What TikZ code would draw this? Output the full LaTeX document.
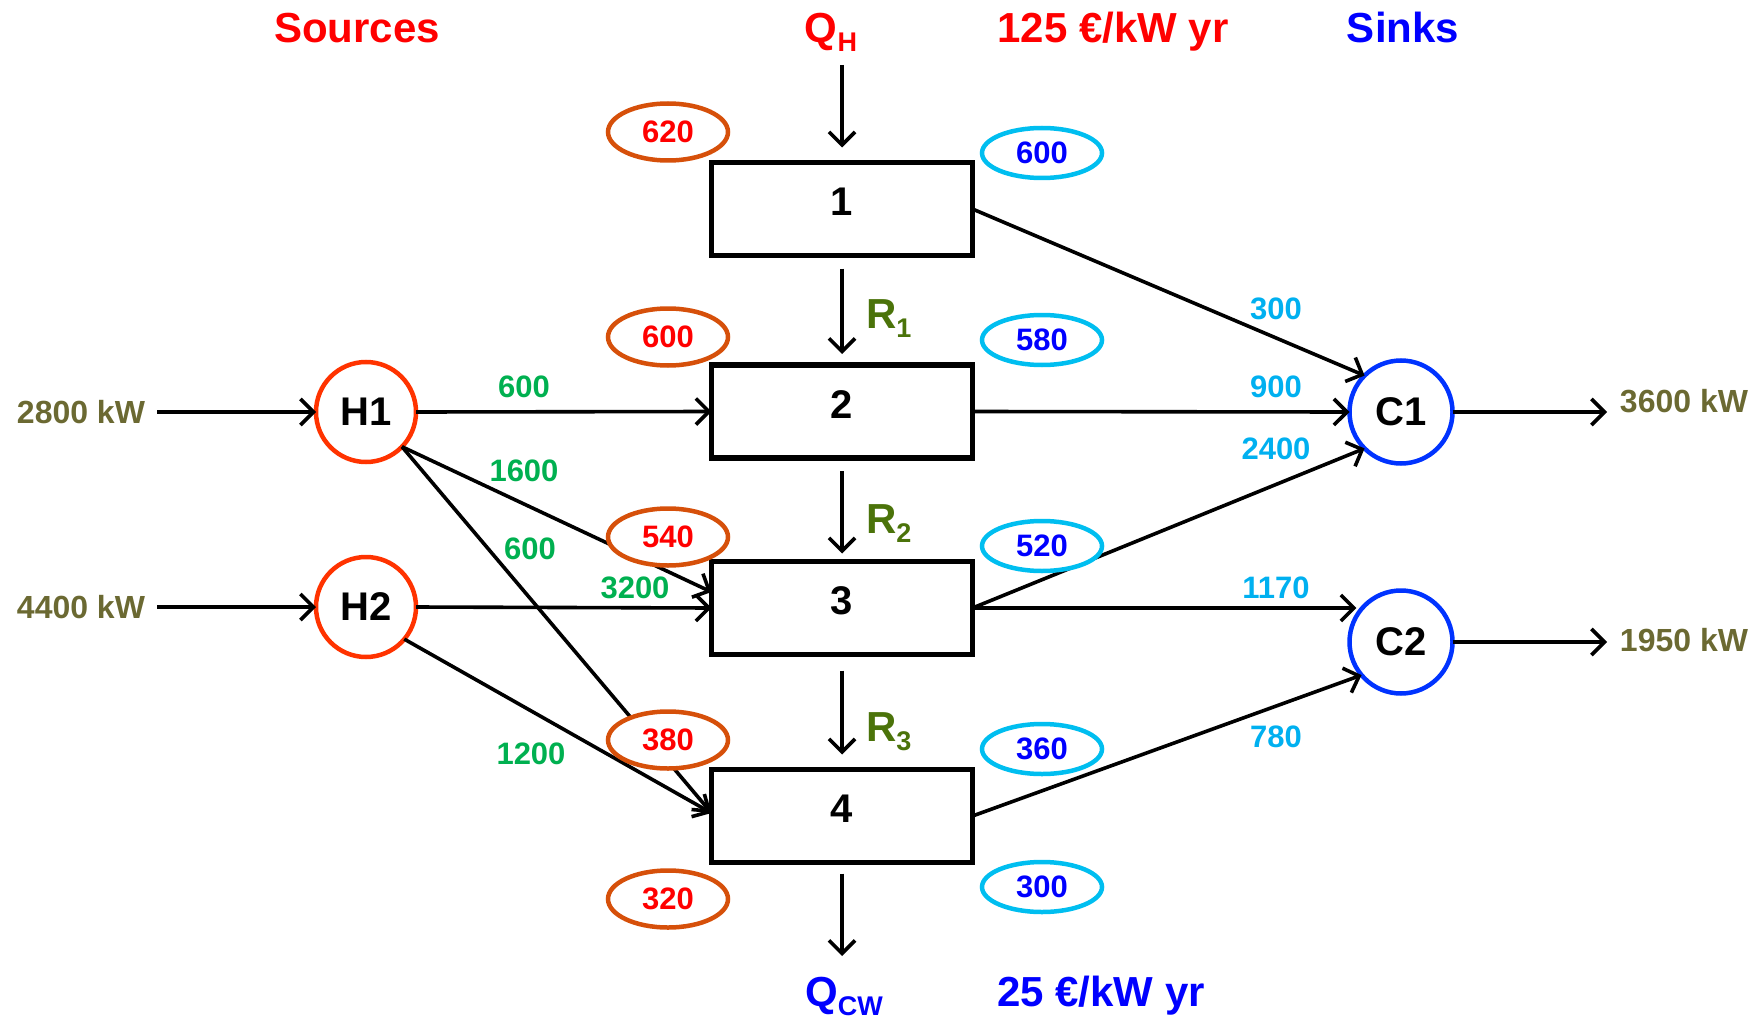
\documentclass[tikz,border=0pt]{standalone}
\usepackage{fontspec}
\setmainfont{Liberation Sans}
\usetikzlibrary{arrows.meta,shapes.geometric}
\definecolor{srcred}{RGB}{255,0,0}
\definecolor{snkblue}{RGB}{0,0,255}
\definecolor{hred}{RGB}{255,51,0}
\definecolor{cblue}{RGB}{0,51,255}
\definecolor{ovorange}{RGB}{214,80,10}
\definecolor{ovcyan}{RGB}{0,190,240}
\definecolor{lblgreen}{RGB}{0,176,80}
\definecolor{lblcyan}{RGB}{0,176,240}
\definecolor{rgreen}{RGB}{75,115,10}
\definecolor{kwolive}{RGB}{107,105,50}
\newcommand\mysub[1]{\raisebox{-9pt}{\fontsize{27}{27}\selectfont #1}}
\newcommand\boxtxt[1]{\raisebox{14pt}{#1}}
\begin{document}
\begin{tikzpicture}[x=1pt,y=-1pt,
  every node/.style={inner sep=0pt, outer sep=0pt},
  big/.style={font=\fontsize{42}{48}\selectfont\bfseries},
  unitbox/.style={draw, line width=5.5pt, minimum width=261pt, minimum height=93pt, font=\fontsize{40}{44}\selectfont\bfseries},
  hot/.style={circle, draw=hred, line width=4.5pt, minimum size=100pt, font=\fontsize{40}{44}\selectfont\bfseries},
  cold/.style={circle, draw=cblue, line width=4.5pt, minimum size=103pt, font=\fontsize{40}{44}\selectfont\bfseries},
  tleft/.style={ellipse, draw=ovorange, fill=white, line width=4.5pt, minimum width=120pt, minimum height=57pt, text=srcred, font=\fontsize{31}{34}\selectfont\bfseries},
  tright/.style={ellipse, draw=ovcyan, fill=white, line width=4.5pt, minimum width=120pt, minimum height=50pt, text=snkblue, font=\fontsize{31}{34}\selectfont\bfseries},
  flow/.style={-{Straight Barb[length=13pt,width=26pt]}, line width=3.6pt},
  hlbl/.style={text=lblgreen, font=\fontsize{31}{34}\selectfont\bfseries},
  clbl/.style={text=lblcyan, font=\fontsize{31}{34}\selectfont\bfseries},
  kw/.style={text=kwolive, font=\fontsize{32}{36}\selectfont\bfseries},
  rlbl/.style={text=rgreen, font=\fontsize{42}{48}\selectfont\bfseries}
]
\useasboundingbox (0,0) rectangle (1760,1016);

% headings
\node[big, text=srcred, anchor=base] (src) at (357,43) {Sources};
\node[big, text=srcred, anchor=base] (qh) at (831,43) {Q\mysub{H}};
\node[big, text=srcred, anchor=base] (hcost) at (1113,43) {125 €/kW yr};
\node[big, text=snkblue, anchor=base] (snk) at (1403,43) {Sinks};
\node[big, text=snkblue, anchor=base] (qcw) at (844,1006) {Q\mysub{CW}};
\node[big, text=snkblue, anchor=base] (ccost) at (1101,1006) {25 €/kW yr};

% intervals
\node[unitbox] (b1) at (842,209) {\boxtxt{1}};
\node[unitbox] (b2) at (842,411.5) {\boxtxt{2}};
\node[unitbox] (b3) at (842,608) {\boxtxt{3}};
\node[unitbox] (b4) at (842,816) {\boxtxt{4}};

% streams
\node[hot] (H1) at (366,412) {H1};
\node[hot] (H2) at (366,607) {H2};
\node[cold] (C1) at (1401,412) {C1};
\node[cold] (C2) at (1401,642) {C2};

% kW labels
\node[kw] (k1) at (81,412) {2800 kW};
\node[kw] (k2) at (81,607) {4400 kW};
\node[kw] (k3) at (1684,401) {3600 kW};
\node[kw] (k4) at (1684,640) {1950 kW};

% R labels
\node[rlbl, anchor=base west] (r1) at (866,328) {R\mysub{1}};
\node[rlbl, anchor=base west] (r2) at (866,533) {R\mysub{2}};
\node[rlbl, anchor=base west] (r3) at (866,741) {R\mysub{3}};

% vertical cascade
\coordinate (qhin) at (842,65);
\coordinate (qcwout) at (842,956);
\draw[flow] (qhin) -- ([yshift=15pt]b1.north);
\draw[flow, shorten <=13pt, shorten >=11pt] (b1.south) -- (b2.north);
\draw[flow, shorten <=13pt, shorten >=8pt] (b2.south) -- (b3.north);
\draw[flow, shorten <=16pt, shorten >=15pt] (b3.south) -- (b4.north);
\draw[flow, shorten <=11pt] (b4.south) -- (qcwout);

% inputs / outputs
\coordinate (in1) at (157,412);
\coordinate (in2) at (157,607);
\coordinate (out1) at (1607,412);
\coordinate (out2) at (1607,642);
\draw[flow] (in1) -- (H1.west);
\draw[flow] (in2) -- (H2.west);
\draw[flow] (C1.east) -- (out1);
\draw[flow] (C2.east) -- (out2);

% hot side
\draw[flow] (H1.east) -- (b2.west);
\draw[flow] (H1.-44) -- ([yshift=16pt]b3.west);
\draw[flow] (H1.-44) -- ([yshift=3pt]b4.west);
\draw[flow] (H2.east) -- (b3.west);
\draw[flow] (H2.-40) -- ([yshift=3pt]b4.west);

% cold side
\draw[flow] (b1.east) -- (C1.135);
\draw[flow] (b2.east) -- (C1.west);
\draw[flow] (b3.east) -- (C1.225);
\draw[flow] (b3.east) -- (b3.east -| C2.150);
\draw[flow] (b4.east) -- (C2.220);

% flow labels
\node[hlbl] (f1) at (524,387) {600};
\node[hlbl] (f2) at (524,471) {1600};
\node[hlbl] (f3) at (530,549) {600};
\node[hlbl] (f4) at (635,588) {3200};
\node[hlbl] (f5) at (531,754) {1200};
\node[clbl] (g1) at (1276,309) {300};
\node[clbl] (g2) at (1276,387) {900};
\node[clbl] (g3) at (1276,449) {2400};
\node[clbl] (g4) at (1276,588) {1170};
\node[clbl] (g5) at (1276,737) {780};

% temperatures
\node[tleft] (t1) at (668,132) {620};
\node[tleft] (t2) at (668,337) {600};
\node[tleft] (t3) at (668,537) {540};
\node[tleft] (t4) at (668,740) {380};
\node[tleft] (t5) at (668,899) {320};
\node[tright] (s1) at (1042,153) {600};
\node[tright] (s2) at (1042,340) {580};
\node[tright] (s3) at (1042,546) {520};
\node[tright] (s4) at (1042,749) {360};
\node[tright] (s5) at (1042,887) {300};
\end{tikzpicture}
\end{document}
